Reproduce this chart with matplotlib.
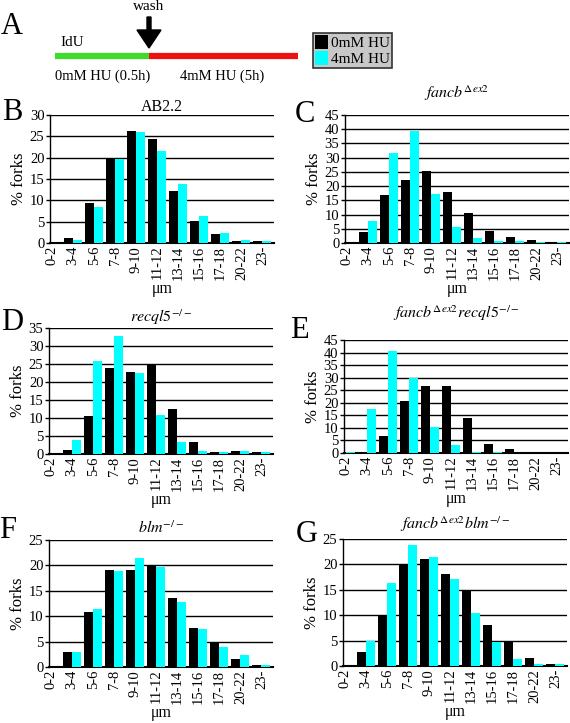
import matplotlib
matplotlib.use('Agg')
import matplotlib.pyplot as plt
from matplotlib.patches import Patch

plt.rcParams.update({
    'font.family': 'serif',
    'font.serif': ['Liberation Serif', 'DejaVu Serif'],
    'mathtext.fontset': 'stix',
    'axes.edgecolor': '#000000',
    'text.color': '#000000',
})

# Fork length bins (um)
bins = ['0-2', '3-4', '5-6', '7-8', '9-10', '11-12', '13-14', '15-16', '17-18', '20-22', '23-']

# % forks, 0mM HU (black) and 4mM HU (cyan)
ab22_0 = [0, 1.1, 9.3, 20.0, 26.3, 24.4, 12.1, 5.1, 2.0, 0.4, 0.4]
ab22_4 = [0, 0.7, 8.4, 19.7, 26.1, 21.6, 13.8, 6.3, 2.4, 0.8, 0.4]

fancb_0 = [0, 3.9, 17.0, 22.0, 25.3, 18.0, 10.7, 4.2, 2.0, 1.1, 0.5]
fancb_4 = [0, 7.6, 31.8, 39.2, 17.1, 5.8, 1.6, 0.8, 0.8, 0.5, 0.3]

recql5_0 = [0, 1.0, 10.5, 24.0, 22.7, 25.0, 12.5, 3.3, 0.6, 0.7, 0.5]
recql5_4 = [0, 3.8, 25.9, 32.8, 22.5, 10.8, 3.2, 0.9, 0.6, 0.7, 0.5]

fancb_recql5_0 = [0, 0, 6.6, 20.6, 26.7, 26.6, 14.0, 3.7, 1.6, 0.5, 0.3]
fancb_recql5_4 = [0.3, 17.4, 40.5, 29.8, 10.3, 3.3, 0.5, 0.4, 0, 0, 0]

blm_0 = [0, 2.9, 10.9, 19.0, 19.0, 20.1, 13.6, 7.7, 5.0, 1.6, 0.3]
blm_4 = [0, 3.0, 11.5, 18.8, 21.4, 19.6, 12.7, 7.4, 4.0, 2.4, 0.3]

fancb_blm_0 = [0, 2.7, 10.1, 20.1, 21.1, 18.2, 15.0, 8.1, 4.7, 1.6, 0.3]
fancb_blm_4 = [0, 5.0, 16.3, 23.8, 21.4, 17.2, 10.4, 4.8, 1.4, 0.3, 0.3]

W, H = 570, 723
fig = plt.figure(figsize=(W / 100, H / 100), dpi=100)

black = '#000000'
cyan = '#00ffff'
bw = 0.43

# panel: (letter, title, black, cyan, ymax, left px, top px, bottom px, title pad, letter x, letter y)
panels = [
    ('B', 'AB2.2', ab22_0, ab22_4, 30, 50, 115, 243, 3, 12, 113),
    ('C', r'$fancb^{\Delta ex2}$', fancb_0, fancb_4, 45, 345, 115, 243, 12, 305, 114),
    ('D', r'$recql5^{-/-}$', recql5_0, recql5_4, 35, 49, 328, 454, 4, 12, 322),
    ('E', r'$fancb^{\Delta ex2}recql5^{-/-}$', fancb_recql5_0, fancb_recql5_4, 45, 344, 340, 453, 16, 299, 331),
    ('F', r'$blm^{-/-}$', blm_0, blm_4, 25, 49, 540, 667, 5, 8, 531),
    ('G', r'$fancb^{\Delta ex2}blm^{-/-}$', fancb_blm_0, fancb_blm_4, 25, 343, 539, 666, 7, 307, 534),
]

x = list(range(len(bins)))
for letter, title, v0, v4, ymax, lpx, tpx, bpx, tpad, lx, ly in panels:
    ax = fig.add_axes([lpx / W, 1 - bpx / H, 224 / W, (bpx - tpx) / H])
    ax.set_axisbelow(True)
    ax.bar([i - bw / 2 for i in x], v0, width=bw, color=black, zorder=3)
    ax.bar([i + bw / 2 for i in x], v4, width=bw, color=cyan, zorder=3)
    ax.set_xlim(-0.1, 10.55)
    ax.set_ylim(0, ymax)
    ax.set_yticks(range(0, ymax + 1, 5))
    ax.yaxis.grid(True, color='black', linewidth=1.0)
    ax.set_xticks(x)
    ax.set_xticklabels(bins, rotation=90, fontsize=10.5)
    ax.tick_params(axis='y', labelsize=10.5, direction='out', length=3, width=1, pad=1)
    ax.tick_params(axis='x', length=0, pad=2)
    for s in ['top', 'right']:
        ax.spines[s].set_visible(False)
    ax.spines['bottom'].set_linewidth(1.5)
    ax.spines['left'].set_linewidth(1.0)
    ax.set_ylabel('% forks', fontsize=12, labelpad=2)
    ax.set_xlabel('μm', fontsize=11.5, labelpad=1)
    ax.set_title(title, fontsize=11.5, pad=tpad)

# overlay in pixel coordinates for schematic, legend and panel letters
ov = fig.add_axes([0, 0, 1, 1], zorder=10)
ov.set_xlim(0, W)
ov.set_ylim(H, 0)
ov.axis('off')
ov.patch.set_alpha(0)

for letter, title, v0, v4, ymax, lpx, tpx, bpx, tpad, lx, ly in panels:
    ov.text(lx, ly, letter, fontsize=22, ha='center', va='center')
ov.text(12, 26, 'A', fontsize=22, ha='center', va='center')

ov.plot([55, 149], [56, 56], color='#3ddc2a', linewidth=4.5, solid_capstyle='butt')
ov.plot([149, 298], [56, 56], color='#ee1111', linewidth=4.5, solid_capstyle='butt')
ov.arrow(149, 17, 0, 31, width=4, head_width=24, head_length=18,
         length_includes_head=True, color='black')
ov.text(149, 7, 'wash', fontsize=11, ha='center', va='center')
ov.text(60, 42, 'IdU', fontsize=11, ha='left', va='center')
ov.text(55, 76, '0mM HU (0.5h)', fontsize=10.5, ha='left', va='center')
ov.text(180, 76, '4mM HU (5h)', fontsize=10.5, ha='left', va='center')

handles = [Patch(facecolor=black, edgecolor='none'), Patch(facecolor=cyan, edgecolor='none')]
leg = fig.legend(handles, ['0mM HU', '4mM HU'], loc='upper left',
                 bbox_to_anchor=(313 / W, 1 - 33 / H), fontsize=11,
                 frameon=True, fancybox=False, facecolor='#c8c8c8', edgecolor='#333333',
                 framealpha=1, handlelength=0.8, handleheight=1.0, handletextpad=0.2,
                 borderpad=0.15, labelspacing=0.05, borderaxespad=0)
leg.get_frame().set_linewidth(1.2)

fig.savefig('out.png', dpi=100)
